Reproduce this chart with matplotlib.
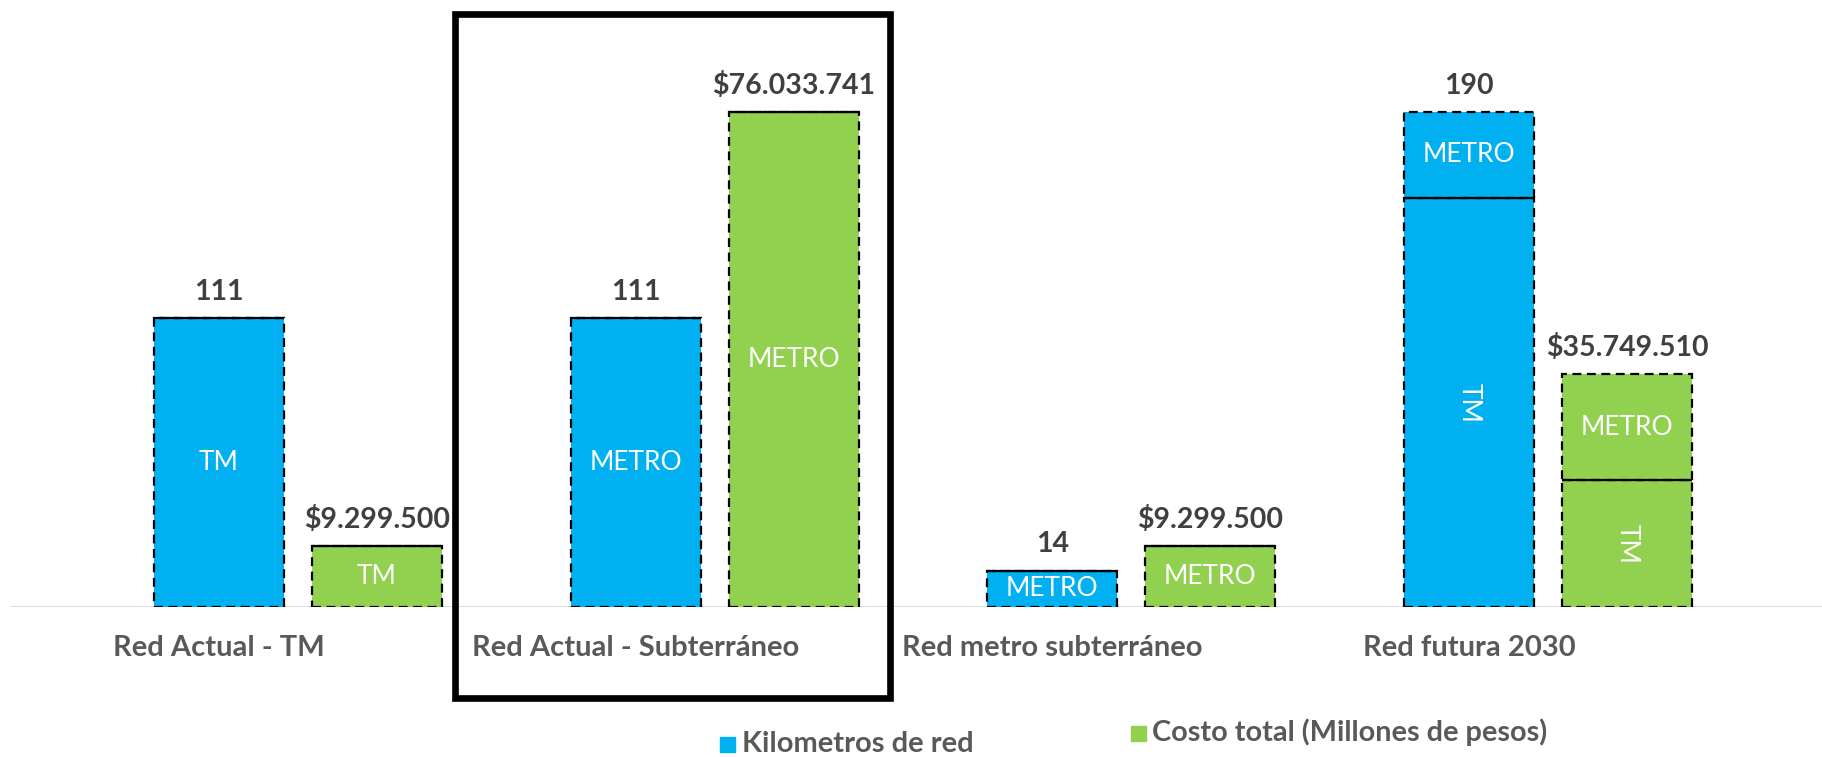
import matplotlib
matplotlib.use("Agg")
import matplotlib.pyplot as plt
from matplotlib.patches import Rectangle

# ---------------- data ----------------
categories = ["Red Actual - TM", "Red Actual - Subterráneo",
              "Red metro subterráneo", "Red futura 2030"]

# Kilometros de red (stacked segments: bottom, top)
km_bottom = [111, 111, 14, 157]
km_top = [0, 0, 0, 33]
km_bottom_lbl = ["TM", "METRO", "METRO", "TM"]
km_top_lbl = ["", "", "", "METRO"]
km_total_lbl = ["111", "111", "14", "190"]

# Costo total (Millones de pesos) (stacked segments: bottom, top)
cost_bottom = [9299500, 76033741, 9299500, 19500000]
cost_top = [0, 0, 0, 16249510]
cost_bottom_lbl = ["TM", "METRO", "METRO", "TM"]
cost_top_lbl = ["", "", "", "METRO"]
cost_total_lbl = ["$9.299.500", "$76.033.741", "$9.299.500", "$35.749.510"]

series_names = ["Kilometros de red", "Costo total (Millones de pesos)"]

# ---------------- style ----------------
BLUE = "#00B0F0"
GREEN = "#92D050"
GRAY = "#595959"
DARK = "#404040"
FONT = "Lato"

W, H = 1822, 757
fig = plt.figure(figsize=(W / 100, H / 100), dpi=100)

base_px = 607          # baseline from top
top_px = 112           # top of tallest bar from top
left_px, right_px = 10, 1822
ax = fig.add_axes([left_px / W, (H - base_px) / H, (right_px - left_px) / W, base_px / H])
ax2 = ax.twinx()

group_px = 298.0
spacing_px = 416.7
xmin = (left_px - group_px) / spacing_px
xmax = (right_px - group_px) / spacing_px
ax.set_xlim(xmin, xmax)
ax2.set_xlim(xmin, xmax)

frac = base_px / (base_px - top_px)
km_max = max(b + t for b, t in zip(km_bottom, km_top))
cost_max = max(b + t for b, t in zip(cost_bottom, cost_top))
ax.set_ylim(0, km_max * frac)
ax2.set_ylim(0, cost_max * frac)

for a in (ax, ax2):
    for s in a.spines.values():
        s.set_visible(False)
    a.set_xticks([])
    a.set_yticks([])
    a.patch.set_visible(False)

bw = 130 / spacing_px
off = 79 / spacing_px
dash = (0, (4, 2.5))
xs = list(range(len(categories)))
xb = [x - off for x in xs]
xg = [x + off for x in xs]

ax.axhline(0, color="#D9D9D9", lw=2, zorder=1)


def draw(a, xpos, bottom, top, blbl, tlbl, totlbl, color):
    a.bar(xpos, bottom, width=bw, color=color, edgecolor="black", lw=1.6,
          linestyle=dash, zorder=3)
    a.bar(xpos, top, width=bw, bottom=bottom, color=color, edgecolor="black",
          lw=1.6, linestyle=dash, zorder=3)
    for x, b, t, bl, tl, tot in zip(xpos, bottom, top, blbl, tlbl, totlbl):
        rot = 0
        if t > 0:
            rot = 270
            a.plot([x - bw / 2, x + bw / 2], [b, b], color="black", lw=1.6,
                   zorder=4, solid_capstyle="butt")
            a.text(x, b + t / 2, tl, ha="center", va="center", color="white",
                   fontsize=19, family=FONT, zorder=5)
        a.text(x, b / 2, bl, ha="center", va="center", color="white",
               fontsize=19, family=FONT, rotation=rot, zorder=5)
        a.annotate(tot, xy=(x, b + t), xytext=(0, 13), textcoords="offset points",
                   ha="center", va="baseline", color=DARK, fontsize=20.5,
                   fontweight="bold", family=FONT, zorder=5)


draw(ax, xb, km_bottom, km_top, km_bottom_lbl, km_top_lbl, km_total_lbl, BLUE)
draw(ax2, xg, cost_bottom, cost_top, cost_bottom_lbl, cost_top_lbl, cost_total_lbl, GREEN)

# category labels under the blue bars
for x, c in zip(xb, categories):
    ax.annotate(c, xy=(x, 0), xytext=(0, -35.5), textcoords="offset points",
                ha="center", va="baseline", color=GRAY, fontsize=21,
                fontweight="bold", family=FONT, annotation_clip=False)

# legend entries
fig.patches.append(Rectangle((720 / W, (H - 752) / H), 15 / W, 15 / H,
                             transform=fig.transFigure, color=BLUE))
fig.text(742 / W, (H - 752) / H, series_names[0], color=GRAY, fontsize=21,
         fontweight="bold", family=FONT, va="baseline", ha="left")
fig.patches.append(Rectangle((1131 / W, (H - 741) / H), 15 / W, 15 / H,
                             transform=fig.transFigure, color=GREEN))
fig.text(1152 / W, (H - 741) / H, series_names[1], color=GRAY, fontsize=20.8,
         fontweight="bold", family=FONT, va="baseline", ha="left")

# highlight box
fig.patches.append(Rectangle((455 / W, (H - 698) / H), 435 / W, 684 / H,
                             transform=fig.transFigure, fill=False,
                             edgecolor="black", lw=4.8, zorder=10))

fig.savefig("out.png", dpi=100, facecolor="white")
